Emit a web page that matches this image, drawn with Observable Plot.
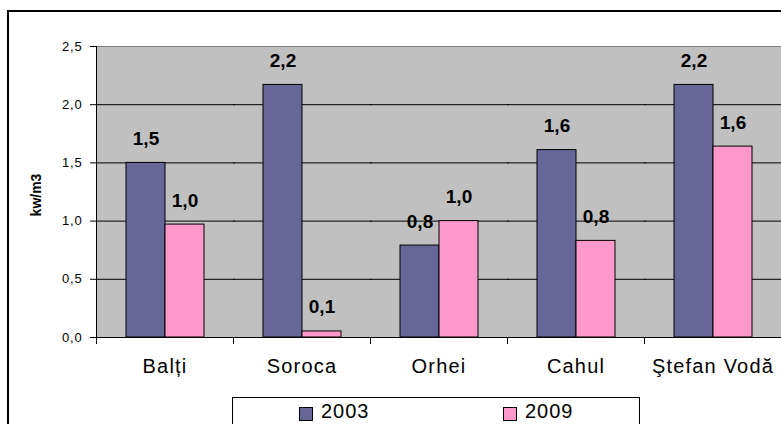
<!DOCTYPE html>
<html><head><meta charset="utf-8">
<script src="https://cdn.jsdelivr.net/npm/d3@7"></script>
<script src="https://cdn.jsdelivr.net/npm/@observablehq/plot@0.6"></script>
<style>
html,body{margin:0;padding:0;background:#fff;overflow:hidden}
#wrap{position:relative;width:781px;height:424px;overflow:hidden;font-family:"Liberation Sans",Arial,sans-serif;color:#000}
#outer{position:absolute;left:7px;top:10px;width:900px;height:600px;border:2px solid #000;box-sizing:border-box;pointer-events:none}
#chart{position:absolute;left:0;top:0}
#legend{position:absolute;left:232px;top:397px;width:408px;height:60px;border:1px solid #000;box-sizing:border-box;background:#fff}
#legend .sw{position:absolute;top:9px;width:14px;height:14px;border:1px solid #000;box-sizing:border-box}
#legend .tx{position:absolute;top:3px;font-size:20px;line-height:20px;letter-spacing:1px;white-space:nowrap}
#chart g[aria-label="fx-axis tick label"] text{letter-spacing:1.2px}
#chart g[aria-label="y-axis tick label"] text{letter-spacing:0.8px}
#chart g[aria-label="value-labels"] text{letter-spacing:1.5px}
#chart g[aria-label="y-title"] text{letter-spacing:1px}
</style>
</head><body>
<div id="wrap">
  <div id="chart"></div>
  <div id="legend"></div>
  <div id="outer"></div>
</div>
<script>
const regions = ["Balți", "Soroca", "Orhei", "Cahul", "Ştefan Vodă"];
const series = ["2003", "2009"];
const v2003 = [1.5, 2.17, 0.79, 1.61, 2.17];
const v2009 = [0.97, 0.052, 1.0, 0.83, 1.64];
const colors = ["#666699", "#FF99CC"];
const yTicks = [0, 0.5, 1, 1.5, 2, 2.5];
const gridTicks = [0.5, 1, 1.5, 2];
const yLabel = "kw/m3";

const values = {"2003": v2003, "2009": v2009};
const data = regions.flatMap((r, i) => series.map(s => ({region: r, year: s, value: values[s][i]})));
const fmt = d => d.toFixed(1).replace(".", ",");

const boundaryTicks = (index, scales, vals, dims) => {
  const g = d3.create("svg:g");
  const y0 = dims.height - dims.marginBottom;
  for (const x of [dims.marginLeft, dims.width - dims.marginRight]) {
    g.append("line").attr("x1", x + 0.5).attr("x2", x + 0.5).attr("y1", y0).attr("y2", y0 + 7)
      .attr("stroke", "#000");
  }
  return g.node();
};

const chart = Plot.plot({
  width: 781,
  height: 396,
  marginLeft: 96,
  marginRight: 0,
  marginTop: 46,
  marginBottom: 59,
  style: {fontFamily: "'Liberation Sans', Arial, sans-serif", color: "#000", background: "transparent"},
  fx: {domain: regions, padding: 0, label: null},
  x: {domain: series, paddingInner: 0, paddingOuter: 0.73, axis: null},
  y: {domain: [0, 2.5]},
  color: {domain: series, range: colors},
  marks: [
    Plot.frame({fill: "#c0c0c0", stroke: "none", insetRight: -1.5}),
    Plot.ruleY(gridTicks, {stroke: "#000", insetRight: -1.5}),
    Plot.ruleY([2.5], {stroke: "#808080", insetRight: -1.5}),
    Plot.barY(data, {fx: "region", x: "year", y: "value", fill: "year", stroke: "#000", strokeWidth: 1}),
    Plot.ruleY([0], {stroke: "#000", insetRight: -1.5}),
    Plot.frame({anchor: "left", facetAnchor: "left", stroke: "#000"}),
    Plot.axisY({ticks: yTicks, tickSize: 6, tickPadding: 8, tickFormat: fmt, fontSize: 13, label: null}),
    Plot.text([yLabel], {ariaLabel: "y-title", frameAnchor: "left", facetAnchor: "left", textAnchor: "middle", rotate: -90, dx: -60, dy: 3, fontSize: 14, fontWeight: "bold", fill: "#000"}),
    Plot.axisFx({anchor: "bottom", tickSize: 0, tickPadding: 21, fontSize: 20, label: null}),
    boundaryTicks,
    Plot.text(data, {ariaLabel: "value-labels", fx: "region", x: "year", y: "value", text: d => fmt(d.value), dy: -18, lineAnchor: "bottom", fontSize: 19, fontWeight: "bold", fill: "#000"})
  ]
});
document.getElementById("chart").appendChild(chart);

const legend = document.getElementById("legend");
const swLeft = [66, 270];
series.forEach((s, i) => {
  const sw = document.createElement("div");
  sw.className = "sw";
  sw.style.left = swLeft[i] + "px";
  sw.style.background = colors[i];
  legend.appendChild(sw);
  const tx = document.createElement("div");
  tx.className = "tx";
  tx.style.left = (swLeft[i] + 22) + "px";
  tx.textContent = s;
  legend.appendChild(tx);
});
</script>
</body></html>
